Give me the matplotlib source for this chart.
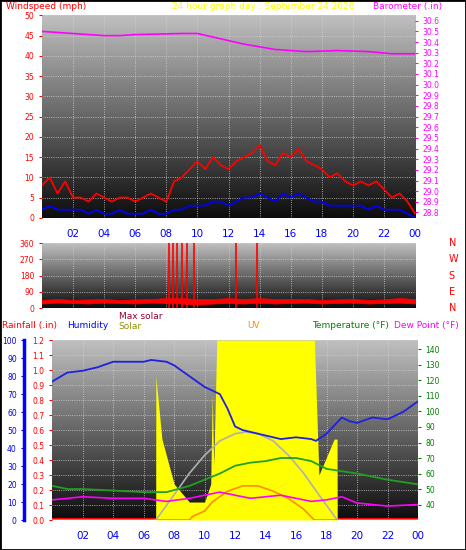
import numpy as np
import matplotlib
matplotlib.use('Agg')
import matplotlib.pyplot as plt

# ---- data ----
half_hours = np.arange(0, 24.5, 0.5)
gust = [8, 10, 6, 9, 5, 5, 4, 6, 5, 4, 5, 5, 4, 5, 6, 5, 4, 9, 10, 12, 14, 12, 15, 13, 12,
        14, 15, 16, 18, 14, 13, 16, 15, 17, 14, 13, 12, 10, 11, 9, 8, 9, 8, 9, 7, 5, 6, 4, 1]
wind_avg = [2, 3, 2, 2, 2, 2, 1, 2, 1, 1, 2, 1, 1, 1, 2, 1, 1, 2, 2, 3, 3, 3, 4, 4, 3,
            4, 5, 5, 6, 5, 4, 6, 5, 6, 5, 4, 4, 3, 3, 3, 3, 3, 2, 3, 2, 2, 2, 1, 0]
baro_hours = [0, 2, 4, 5, 6, 9, 10, 11.5, 13, 15, 17, 19, 21, 22.5, 24]
baro = [30.50, 30.48, 30.46, 30.46, 30.47, 30.48, 30.48, 30.43, 30.38, 30.33, 30.31, 30.32, 30.31, 30.29, 30.29]

hours = np.arange(0, 25, 1)
dir_lo = [25, 30, 28, 25, 30, 28, 25, 30, 28, 25, 20, 25, 28, 25, 30, 25, 28, 30, 25, 28, 30, 25, 28, 30, 25]
dir_hi = [45, 50, 45, 48, 50, 45, 48, 50, 55, 55, 50, 50, 55, 50, 55, 50, 50, 50, 45, 48, 50, 45, 48, 55, 50]
spike_hours = [8.2, 8.45, 8.7, 9.0, 9.3, 9.75, 12.5, 13.8]

hum_hours = [0, 1, 2, 3, 4, 5, 6, 6.5, 7.5, 8, 9, 10, 11, 11.5, 12, 12.5, 13, 14, 15, 16, 17, 17.3, 18, 19, 19.5, 20, 21, 22, 23, 24]
humidity = [77, 82, 83, 85, 88, 88, 88, 89, 88, 86, 80, 74, 70, 62, 52, 50, 49, 47, 45, 46, 45, 44, 48, 57, 55, 54, 57, 56, 60, 66]
temp_hours = [0, 1, 2, 4, 6, 7.5, 9, 10, 11, 12, 13, 14, 15, 16, 17, 18, 20, 22, 24]
temperature = [52, 50, 50, 49, 48, 48, 52, 56, 60, 65, 67, 68, 70, 70, 68, 63, 60, 56, 53]
dew_hours = [0, 2, 4, 6, 7.5, 9, 11, 12, 13, 14, 15, 16, 17, 18, 19, 20, 22, 24]
dewpoint = [43, 45, 44, 44, 42, 44, 48, 46, 44, 45, 46, 44, 42, 43, 45, 41, 39, 40]
uv_hours = [0, 9.0, 9.2, 10, 10.5, 11.5, 12.5, 13.5, 14.5, 15.5, 16.5, 17.2, 24]
uv = [0, 0, 2, 5, 10, 16, 19, 19, 16, 12, 6, 0, 0]
solar_hours = [0, 6.79, 6.8, 7.2, 8, 9, 10, 10.4, 10.5, 10.6, 10.8, 17.2, 17.5, 18, 18.5, 18.69, 18.7, 24]
solar = [0, 0, 0.8, 0.45, 0.2, 0.1, 0.1, 0.2, 0.7, 0.3, 1.0, 1.0, 0.25, 0.35, 0.45, 0.45, 0, 0]
maxsol_hours = [6.8, 8, 9, 10, 11, 12, 12.7, 13.5, 14.5, 15.5, 16.5, 17.5, 18.7]
max_solar = [0, 14, 26, 36, 44, 48, 49, 48, 44, 36, 26, 14, 0]

xticks = list(range(2, 25, 2))
xlabels = ['02', '04', '06', '08', '10', '12', '14', '16', '18', '20', '22', '00']

fig = plt.figure(figsize=(4.66, 5.5), dpi=100)
fig.patch.set_facecolor('white')
fig.add_artist(plt.Rectangle((0, 0), 1, 1, transform=fig.transFigure, fill=False, ec='black', lw=2))

grad = np.linspace(0.75, 0.05, 256)[:, None]


def background(ax, ymin, ymax):
    ax.imshow(grad, cmap='gray', vmin=0, vmax=1, extent=(0, 24, ymin, ymax), aspect='auto', zorder=0)
    ax.set_xlim(0, 24)
    ax.set_ylim(ymin, ymax)
    ax.grid(True, color='#d0d0d0', ls=':', lw=0.6)
    ax.set_axisbelow(False)
    for s in ax.spines.values():
        s.set_visible(False)


# ---- top: wind + barometer ----
ax1 = fig.add_axes([0.090, 0.604, 0.801, 0.368])
background(ax1, 0, 50)
ax1.plot(half_hours, gust, color='red', lw=1.3, zorder=3)
ax1.plot(half_hours, wind_avg, color='blue', lw=1.3, zorder=4)
ax1.set_yticks(range(0, 51, 5))
ax1.tick_params(axis='y', colors='red', labelsize=5.5, length=2)
ax1.set_xticks(xticks, xlabels)
ax1.tick_params(axis='x', colors='blue', labelsize=7.5, length=0, pad=8)
ax1b = ax1.twinx()
ax1b.plot(baro_hours, baro, color='#ff00ff', lw=1.2)
ax1b.set_ylim(28.75, 30.65)
ax1b.set_yticks(np.round(np.arange(28.8, 30.61, 0.1), 1))
ax1b.tick_params(axis='y', colors='#ff00ff', labelsize=5.5, length=2)
for s in ax1b.spines.values():
    s.set_visible(False)
fig.text(0.012, 0.984, 'Windspeed (mph)', color='red', fontsize=6.5)
fig.text(0.37, 0.984, '24 hour graph day : September 24 2026', color='yellow', fontsize=6.5)
fig.text(0.80, 0.984, 'Barometer (.in)', color='#ff00ff', fontsize=6.5)

# ---- middle: wind direction ----
ax2 = fig.add_axes([0.090, 0.44, 0.801, 0.118])
background(ax2, 0, 360)
ax2.fill_between(hours, dir_lo, dir_hi, color='red', lw=0.5, zorder=3)
ax2.vlines(spike_hours, 0, 360, color='red', lw=1.2, zorder=3)
ax2.set_yticks([0, 90, 180, 270, 360])
ax2.tick_params(axis='y', colors='red', labelsize=5.5, length=2)
ax2.set_xticks(xticks, [])
ax2.tick_params(axis='x', length=0)
for i, lab in enumerate(['N', 'W', 'S', 'E', 'N']):
    ax2.text(1.09, 1 - i * 0.25, lab, transform=ax2.transAxes, color='red', fontsize=7, va='center')

# ---- bottom: temperature, humidity, solar ----
ax3 = fig.add_axes([0.112, 0.0545, 0.785, 0.327])
background(ax3, 0, 1.2)
ax3.set_yticks(np.round(np.arange(0, 1.21, 0.1), 1))
ax3.tick_params(axis='y', colors='red', labelsize=5.5, length=2)
ax3.set_xticks(xticks, xlabels)
ax3.tick_params(axis='x', colors='blue', labelsize=7.5, length=0, pad=8)
ax3.axhline(0, color='red', lw=3, zorder=5)

axs = ax3.twinx()
axs.fill_between(solar_hours, 0, solar, color='yellow', lw=0, zorder=1)
axs.set_ylim(0, 1)
axs.set_yticks([])
for s in axs.spines.values():
    s.set_visible(False)

axh = ax3.twinx()
axh.yaxis.set_label_position('left')
axh.yaxis.tick_left()
axh.spines['left'].set_position(('outward', 20))
axh.spines['left'].set_color('blue')
axh.spines['left'].set_linewidth(2.5)
for k in ['right', 'top', 'bottom']:
    axh.spines[k].set_visible(False)
axh.set_ylim(0, 100)
axh.set_yticks(range(0, 101, 10))
axh.tick_params(axis='y', colors='blue', labelsize=5.5, length=2)
axh.plot(maxsol_hours, max_solar, color='#b0b0b0', lw=1.2)
axh.plot(uv_hours, uv, color='#ff8c00', lw=1.2)
axh.plot(hum_hours, humidity, color='#2020e0', lw=1.3)

axt = ax3.twinx()
axt.set_ylim(30, 146)
axt.set_yticks(range(40, 141, 10))
axt.tick_params(axis='y', colors='green', labelsize=5.5, length=2)
for s in axt.spines.values():
    s.set_visible(False)
axt.plot(temp_hours, temperature, color='#20a020', lw=1.3)
axt.plot(dew_hours, dewpoint, color='#ff00ff', lw=1.2)

fig.text(0.005, 0.403, 'Rainfall (.in)', color='red', fontsize=6.5)
fig.text(0.145, 0.403, 'Humidity', color='blue', fontsize=6.5)
fig.text(0.255, 0.42, 'Max solar', color='#900030', fontsize=6.5)
fig.text(0.255, 0.402, 'Solar', color='#909000', fontsize=6.5)
fig.text(0.53, 0.403, 'UV', color='#ff8c00', fontsize=6.5)
fig.text(0.67, 0.403, 'Temperature (°F)', color='green', fontsize=6.5)
fig.text(0.846, 0.403, 'Dew Point (°F)', color='#ff00ff', fontsize=6.5)

fig.savefig('out.png', dpi=100)
